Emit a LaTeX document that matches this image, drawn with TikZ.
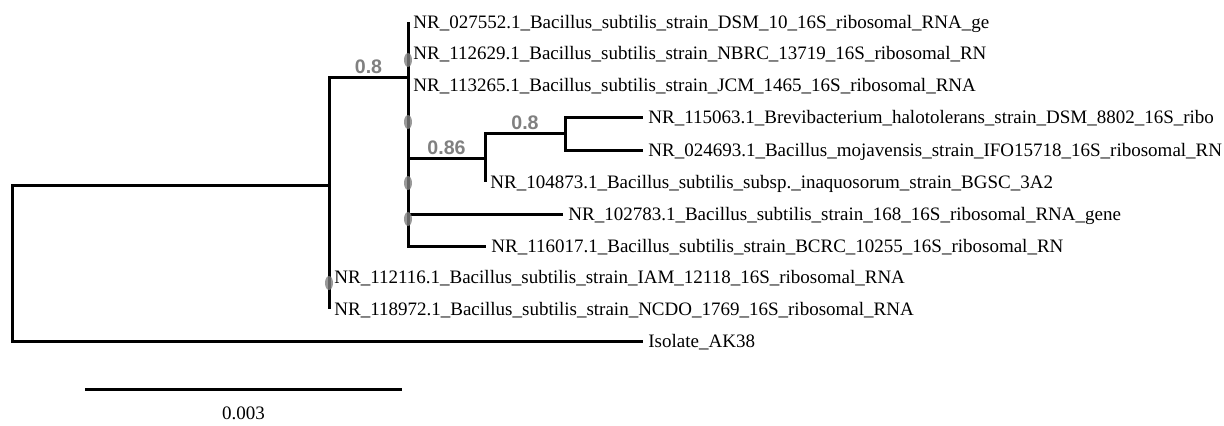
\documentclass[tikz,border=0pt]{standalone}
\usepackage{fontspec}
\setmainfont{Liberation Serif}
\newfontfamily\supportfont{Liberation Sans}
\usetikzlibrary{shapes.geometric}

\begin{document}
\begin{tikzpicture}[
  x=0.5pt, y=-0.5pt,
  branch/.style={line width=1.5pt, line join=miter},
  leaf/.style={anchor=west, inner xsep=2.5pt, inner ysep=0pt,
              text height=6.5pt, text depth=0.5pt,
              font=\fontsize{9.5}{11}\selectfont},
  support/.style={font=\supportfont\bfseries\fontsize{9.8}{11}\selectfont,
              text=black!50, inner sep=1pt},
  bsdot/.style={ellipse, fill=black!50, fill opacity=0.8,
              minimum width=4pt, minimum height=7pt, inner sep=0pt},
]
\useasboundingbox (0,0) rectangle (1224,425);

% === Internal nodes ===
\coordinate (root) at (12,263);
\coordinate (n1) at (329,185);
\coordinate (c2) at (408,77);
\coordinate (c3) at (485,158);
\coordinate (c4) at (565,133);

% === Leaves ===
\node[leaf] (l1) at (408,22) {NR\_027552.1\_Bacillus\_subtilis\_strain\_DSM\_10\_16S\_ribosomal\_RNA\_ge};
\node[leaf] (l2) at (408,53) {NR\_112629.1\_Bacillus\_subtilis\_strain\_NBRC\_13719\_16S\_ribosomal\_RN};
\node[leaf] (l3) at (408,85) {NR\_113265.1\_Bacillus\_subtilis\_strain\_JCM\_1465\_16S\_ribosomal\_RNA};
\node[leaf] (l4) at (643,117) {NR\_115063.1\_Brevibacterium\_halotolerans\_strain\_DSM\_8802\_16S\_ribo};
\node[leaf] (l5) at (643,150) {NR\_024693.1\_Bacillus\_mojavensis\_strain\_IFO15718\_16S\_ribosomal\_RN};
\node[leaf] (l6) at (485,182) {NR\_104873.1\_Bacillus\_subtilis\_subsp.\_inaquosorum\_strain\_BGSC\_3A2};
\node[leaf] (l7) at (563,214) {NR\_102783.1\_Bacillus\_subtilis\_strain\_168\_16S\_ribosomal\_RNA\_gene};
\node[leaf] (l8) at (486,246) {NR\_116017.1\_Bacillus\_subtilis\_strain\_BCRC\_10255\_16S\_ribosomal\_RN};
\node[leaf] (l9) at (329,277) {NR\_112116.1\_Bacillus\_subtilis\_strain\_IAM\_12118\_16S\_ribosomal\_RNA};
\node[leaf] (l10) at (329,309) {NR\_118972.1\_Bacillus\_subtilis\_strain\_NCDO\_1769\_16S\_ribosomal\_RNA};
\node[leaf] (iso) at (643,341) {Isolate\_AK38};

% === Branches ===
\draw[branch] (root) |- (n1);
\draw[branch] (root) |- (iso.west);

\draw[branch] (n1) |- node[support, pos=0.75, above] {0.8} (c2);
\draw[branch] (n1) |- (l9.west);
\draw[branch] (n1) |- (l10.west);

\foreach \c in {l1,l2,l3,l7,l8}
  \draw[branch] (c2) |- (\c.west);
\draw[branch] (c2) |- node[support, pos=0.75, above] {0.86} (c3);

\draw[branch] (c3) |- node[support, pos=0.75, above] {0.8} (c4);
\draw[branch] (c3) |- (l6.west);

\draw[branch] (c4) |- (l4.west);
\draw[branch] (c4) |- (l5.west);

% bootstrap dots
\foreach \y [count=\i] in {60,122,183,219}
  \node[bsdot] (d\i) at (408,\y) {};
\node[bsdot] (d5) at (329,283) {};

% === Scale bar ===
\coordinate (sb1) at (85,389);
\coordinate (sb2) at (402,389);
\draw[branch] (sb1) -- node[midway, below=8pt, inner sep=0pt,
  font=\fontsize{9.5}{11}\selectfont] (sbtext) {0.003} (sb2);

\end{tikzpicture}
\end{document}
